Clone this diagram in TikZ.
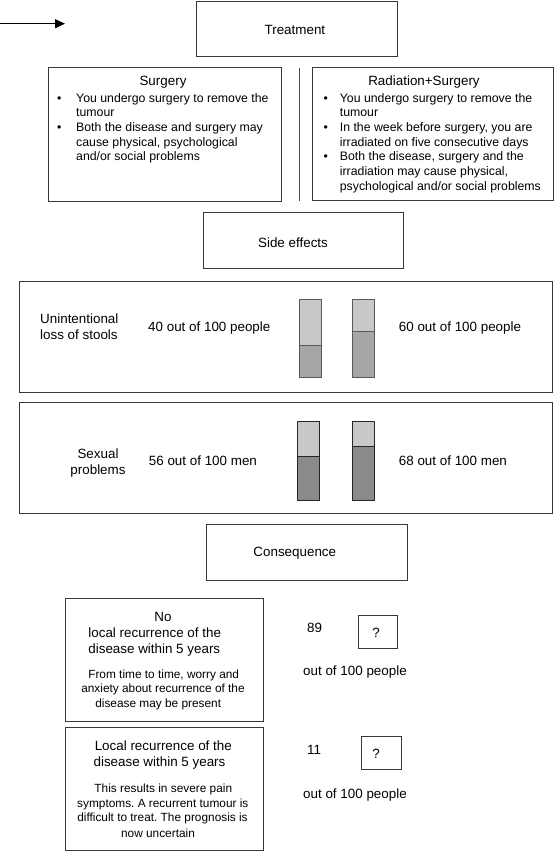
\documentclass[tikz,border=0pt]{standalone}
\usepackage{fontspec}
\setmainfont{Liberation Sans}
\usetikzlibrary{arrows.meta}
\newcommand\fA{\fontsize{13.4}{16}\selectfont}
\newcommand\fB{\fontsize{12.3}{14.7}\selectfont}
\newcommand\fC{\fontsize{11.85}{15}\selectfont}
\definecolor{barlight}{HTML}{C8C8C8}
\definecolor{barmid}{HTML}{A6A6A6}
\definecolor{bardark}{HTML}{8A8A8A}
\frenchspacing
\begin{document}
\begin{tikzpicture}[x=1pt,y=-1pt,
  box/.style={draw=black!78,line width=1pt,inner sep=0,rectangle},
  ta/.style={inner sep=0,font=\fA},
  tb/.style={inner sep=0,font=\fB},
  tc/.style={inner sep=0,font=\fC},
  barA/.style={draw=black!65,line width=0.8pt},
  barB/.style={draw=black!85,line width=0.8pt}]
\useasboundingbox[fill=white] (0,0) rectangle (554,852);

% arrow
\coordinate (a0) at (0,23.7);
\coordinate (a1) at (65,23.7);
\draw[line width=1.1pt,-{Triangle[length=10pt,width=9pt]}] (a0) -- (a1);

% boxes
\node[box,minimum width=201,minimum height=55.4] (treat) at (296.5,29) {};
\node[ta] (treatt) at (294.9,30) {Treatment};
\node[box,minimum width=233.4,minimum height=134] (surg) at (165,134.7) {};
\node[box,minimum width=240.7,minimum height=133] (rad) at (432.7,134.2) {};
\coordinate (d0) at (299,68);
\coordinate (d1) at (299,201);
\draw[black!70,line width=0.9pt] (d0) -- (d1);
\node[box,minimum width=200.4,minimum height=56] (side) at (303.5,240.7) {};
\node[ta] (sidet) at (293,242.3) {Side effects};
\node[box,minimum width=533,minimum height=111.7] (sto) at (285.8,336.85) {};
\node[box,minimum width=533,minimum height=111.3] (sex) at (285.8,457.65) {};
\node[box,minimum width=200.6,minimum height=55.6] (cons) at (307,552.5) {};
\node[ta] (const) at (294.8,553.2) {Consequence};
\node[box,minimum width=197.6,minimum height=122.6] (norec) at (164.5,660) {};
\node[box,minimum width=197.6,minimum height=123] (rec) at (164.5,789.2) {};
\node[box,minimum width=39,minimum height=33.3] (qa) at (377.8,631.7) {};
\node[box,minimum width=39.3,minimum height=33.3] (qb) at (381.35,752.65) {};
\node[ta] (qat) at (376,633.3) {?};
\node[ta] (qbt) at (376,754) {?};

% Surgery box text
\node[ta,anchor=base] (s0) at (163,85.9) {Surgery};
\node[tb,anchor=base] (sb1) at (59.3,102.1) {•};
\node[tb,anchor=base west] (s1) at (76,102.1) {You undergo surgery to remove the};
\node[tb,anchor=base west] (s2) at (76,116.75) {tumour};
\node[tb,anchor=base] (sb2) at (59.3,131.4) {•};
\node[tb,anchor=base west] (s3) at (76,131.4) {Both the disease and surgery may};
\node[tb,anchor=base west] (s4) at (76,146.05) {cause physical, psychological};
\node[tb,anchor=base west] (s5) at (76,160.7) {and/or social problems};

% Radiation box text
\node[ta,anchor=base] (r0) at (424,85.9) {Radiation+Surgery};
\node[tb,anchor=base] (rb1) at (325.7,102.1) {•};
\node[tb,anchor=base west] (r1) at (339.7,102.1) {You undergo surgery to remove the};
\node[tb,anchor=base west] (r2) at (339.7,116.75) {tumour};
\node[tb,anchor=base] (rb2) at (325.7,131.4) {•};
\node[tb,anchor=base west] (r3) at (339.7,131.4) {In the week before surgery, you are};
\node[tb,anchor=base west] (r4) at (339.7,146.05) {irradiated on five consecutive days};
\node[tb,anchor=base] (rb3) at (325.7,160.7) {•};
\node[tb,anchor=base west] (r5) at (339.7,160.7) {Both the disease, surgery and the};
\node[tb,anchor=base west] (r6) at (339.7,175.35) {irradiation may cause physical,};
\node[tb,anchor=base west] (r7) at (339.7,190) {psychological and/or social problems};

% stools box
\node[ta,anchor=base west] (u1) at (40,323.2) {Unintentional};
\node[ta,anchor=base west] (u2) at (40,339.5) {loss of stools};
\node[ta,anchor=base west] (u3) at (148,331.9) {40 out of 100 people};
\node[ta,anchor=base west] (u4) at (398.7,331.9) {60 out of 100 people};
\fill[barlight] (299.7,299.3) rectangle (321,345.7);
\fill[barmid] (299.7,345.7) rectangle (321,377.3);
\draw[barA] (299.7,299.3) rectangle (321,377.3);
\draw[barA] (299.7,345.7) -- (321,345.7);
\fill[barlight] (352.7,299.3) rectangle (374.3,331.3);
\fill[barmid] (352.7,331.3) rectangle (374.3,377.3);
\draw[barA] (352.7,299.3) rectangle (374.3,377.3);
\draw[barA] (352.7,331.3) -- (374.3,331.3);

% sexual box
\node[ta,anchor=base] (x1) at (98,458.2) {Sexual};
\node[ta,anchor=base] (x2) at (98,474.2) {problems};
\node[ta,anchor=base west] (x3) at (148.7,465.6) {56 out of 100 men};
\node[ta,anchor=base west] (x4) at (398.7,465.6) {68 out of 100 men};
\fill[barlight] (297.7,421.3) rectangle (319.3,456.3);
\fill[bardark] (297.7,456.3) rectangle (319.3,500);
\draw[barB] (297.7,421.3) rectangle (319.3,500);
\draw[barB] (297.7,456.3) -- (319.3,456.3);
\fill[barlight] (352.7,421.3) rectangle (374.7,446.7);
\fill[bardark] (352.7,446.7) rectangle (374.7,500);
\draw[barB] (352.7,421.3) rectangle (374.7,500);
\draw[barB] (352.7,446.7) -- (374.7,446.7);

% no recurrence box
\node[ta,anchor=base] (n1) at (163,621.6) {No};
\node[ta,anchor=base] (n2) at (154.7,637.2) {local recurrence of the};
\node[ta,anchor=base] (n3) at (154.3,653.2) {disease within 5 years};
\node[tc,anchor=base] (n4) at (163.7,678) {From time to time, worry and};
\node[tc,anchor=base] (n5) at (163,692.6) {anxiety about recurrence of the};
\node[tc,anchor=base] (n6) at (158.2,707.3) {disease may be present};

% recurrence box
\node[ta,anchor=base] (l1) at (163.3,750.9) {Local recurrence of the};
\node[ta,anchor=base] (l2) at (159.5,766.9) {disease within 5 years};
\node[tc,anchor=base] (l3) at (163.3,792) {This results in severe pain};
\node[tc,anchor=base] (l4) at (162.8,807) {symptoms. A recurrent tumour is};
\node[tc,anchor=base] (l5) at (162.5,821.6) {difficult to treat. The prognosis is};
\node[tc,anchor=base] (l6) at (158,837) {now uncertain};

% numbers
\node[ta,anchor=base west] (p1) at (307,632.6) {89};
\node[ta,anchor=base west] (p2) at (303,675.9) {out of 100 people};
\node[ta,anchor=base west] (p3) at (307,754.2) {11};
\node[ta,anchor=base west] (p4) at (303,798.2) {out of 100 people};
\end{tikzpicture}
\end{document}
